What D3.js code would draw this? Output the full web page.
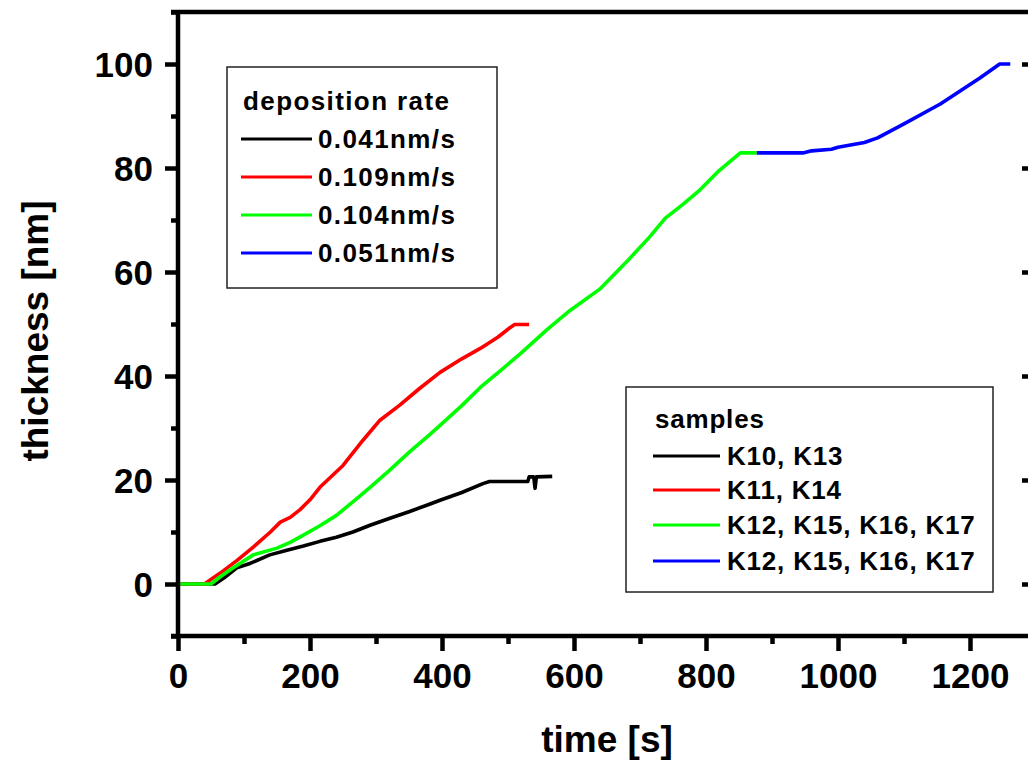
<!DOCTYPE html>
<html><head><meta charset="utf-8">
<script src="https://cdn.jsdelivr.net/npm/d3@7"></script>
<style>
html,body{margin:0;padding:0;background:#fff;}
svg{display:block;}
text{font-family:Arial,"Liberation Sans",sans-serif;font-weight:bold;fill:#000;}
</style></head>
<body><svg id="c" width="1028" height="765"></svg>
<script>
// ---- data ----
const blackSeries = [[0,0],[56,0],[70,1.2],[89,3.1],[110,4.0],[139,5.6],[165,6.5],[190,7.3],[215,8.2],[240,9.0],[265,10.0],[291,11.3],[320,12.6],[350,13.9],[380,15.3],[397,16.1],[430,17.6],[462,19.3],[472,19.7],[530,19.7],[532,20.6],[539,20.6],[541,18.4],[543,20.6],[567,20.7]];
const redSeries = [[0,0],[40,0],[64,2.1],[90,4.6],[114,7.1],[140,10.0],[155,11.9],[170,12.8],[185,14.3],[200,16.2],[215,18.6],[250,22.8],[280,27.6],[306,31.5],[336,34.4],[365,37.5],[397,40.7],[430,43.3],[458,45.3],[485,47.5],[503,49.3],[510,49.9],[532,49.9]];
const greenSeries = [[0,0],[50,0],[64,1.4],[85,3.2],[114,5.6],[150,6.9],[170,8.0],[190,9.4],[215,11.2],[240,13.2],[265,15.8],[291,18.6],[320,21.8],[350,25.3],[380,28.6],[397,30.5],[430,34.3],[458,37.8],[490,41.2],[518,44.2],[560,49.0],[594,52.6],[639,56.7],[680,62.0],[715,66.8],[738,70.3],[765,73.0],[791,75.8],[820,79.5],[852,82.9],[877,82.9]];
const blueSeries = [[877,82.9],[947,82.9],[960,83.3],[990,83.6],[1000,84.0],[1040,84.9],[1060,85.8],[1100,88.5],[1155,92.3],[1185,94.8],[1215,97.3],[1245,100],[1261,100]];
const seriesColors = ["#000000","#ff0000","#00ff00","#0000ff"];
const rateLabels = ["0.041nm/s","0.109nm/s","0.104nm/s","0.051nm/s"];
const sampleLabels = ["K10, K13","K11, K14","K12, K15, K16, K17","K12, K15, K16, K17"];
const xMajorTicks = [0,200,400,600,800,1000,1200];
const xMinorTicks = [100,300,500,700,900,1100,1300];
const yMajorTicks = [0,20,40,60,80,100];
const yMinorTicks = [-10,10,30,50,70,90,110];

// ---- layout ----
const svg = d3.select("#c");
const x = d3.scaleLinear().domain([0,1300]).range([178,1036]);
const y = d3.scaleLinear().domain([-10,110]).range([636,12]);
const AW = 4.5;

// lines
const line = d3.line().x(d=>x(d[0])).y(d=>y(d[1]));
const all = [blackSeries, redSeries, greenSeries, blueSeries];
all.forEach((s,i)=>{
  svg.append("path").datum(s).attr("d",line).attr("fill","none")
    .attr("stroke",seriesColors[i]).attr("stroke-width",3.6)
    .attr("stroke-linejoin","round").attr("stroke-linecap","butt");
});

// axes via d3
const gBottom = svg.append("g").attr("transform",`translate(0,${y(-10)})`)
  .call(d3.axisBottom(x).tickValues(xMajorTicks).tickSize(15).tickPadding(12).tickFormat(d3.format("d")));
const gBottomMinor = svg.append("g").attr("transform",`translate(0,${y(-10)})`)
  .call(d3.axisBottom(x).tickValues(xMinorTicks).tickSize(8).tickFormat(""));
const gLeft = svg.append("g").attr("transform",`translate(${x(0)},0)`)
  .call(d3.axisLeft(y).tickValues(yMajorTicks).tickSize(13).tickPadding(12).tickFormat(d3.format("d")));
const gLeftMinor = svg.append("g").attr("transform",`translate(${x(0)},0)`)
  .call(d3.axisLeft(y).tickValues(yMinorTicks).tickSize(7).tickFormat(""));
const gRight = svg.append("g").attr("transform",`translate(${x(1300)},0)`)
  .call(d3.axisLeft(y).tickValues(yMajorTicks).tickSize(14).tickFormat(""));
const gTop = svg.append("g").attr("transform",`translate(0,${y(110)})`)
  .call(d3.axisTop(x).tickValues([]).tickSizeOuter(0));
[gBottom,gBottomMinor,gLeft,gLeftMinor,gRight,gTop].forEach(g=>{
  g.selectAll(".domain").attr("stroke","#000").attr("stroke-width",AW);
  g.selectAll(".tick line").attr("stroke","#000").attr("stroke-width",AW);
  g.selectAll(".tick text").style("font-size","35px").attr("fill","#000");
});
gBottom.selectAll(".domain").attr("d",`M${x(0)-7},0H${x(1300)}`);
gBottomMinor.selectAll(".domain").remove();
gLeftMinor.selectAll(".domain").remove();
gLeft.selectAll(".domain").attr("d",`M0,${y(-10)}V${y(110)}`);
gTop.selectAll(".domain").attr("d",`M${x(0)-7},0H${x(1300)}`);
gRight.selectAll(".domain").attr("d",`M0,${y(-10)}V${y(110)}`);
gBottom.selectAll(".tick text").attr("dy","0.71em");
gLeft.selectAll(".tick text").attr("dy","0.35em");

// axis titles
svg.append("text").attr("transform","translate(48,331) rotate(-90)")
  .attr("text-anchor","middle").style("font-size","37px").text("thickness [nm]");
svg.append("text").attr("x",607).attr("y",752)
  .attr("text-anchor","middle").style("font-size","37px").text("time [s]");

// legends
function legend(bx,by,bw,bh,title,titleX,titleY,labels,lineX1,lineX2,textX,rowY,ls){
  svg.append("rect").attr("x",bx).attr("y",by).attr("width",bw).attr("height",bh)
    .attr("fill","#fff").attr("stroke","#222").attr("stroke-width",1.5);
  svg.append("text").attr("x",titleX).attr("y",titleY).style("font-size","26px")
    .style("letter-spacing",ls+"px").text(title);
  labels.forEach((lab,i)=>{
    svg.append("line").attr("x1",lineX1).attr("x2",lineX2).attr("y1",rowY[i]).attr("y2",rowY[i])
      .attr("stroke",seriesColors[i]).attr("stroke-width",3);
    svg.append("text").attr("x",textX).attr("y",rowY[i]).attr("dy","0.35em")
      .style("font-size","26px").style("letter-spacing",ls+"px").text(lab);
  });
}
legend(227,67,270,221,"deposition rate",243,110,rateLabels,241,312,318,[139,177,215,253],1.4);
legend(626,387,367,205,"samples",655,428,sampleLabels,653,720,727,[456,490,525,561],0.8);
</script></body></html>
